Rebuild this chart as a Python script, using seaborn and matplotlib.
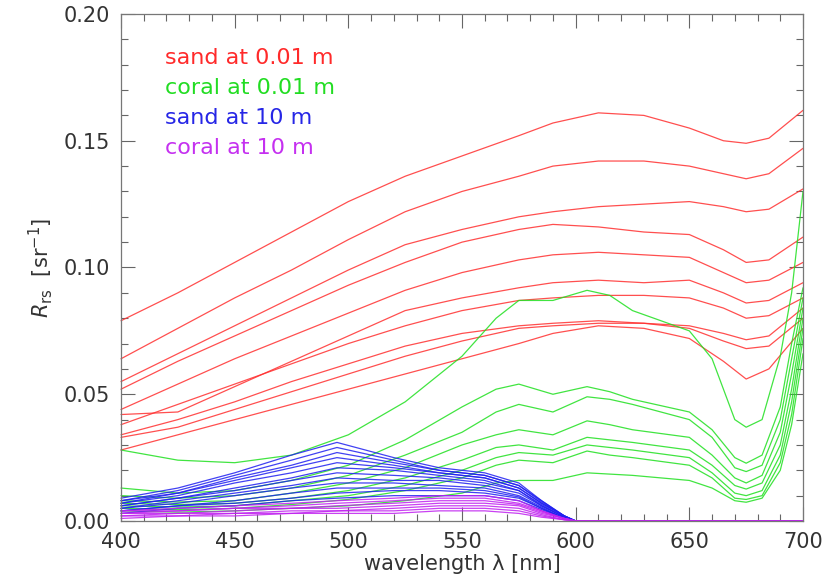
import numpy as np
import pandas as pd
import matplotlib
matplotlib.use("Agg")
import matplotlib.pyplot as plt
import seaborn as sns
from matplotlib.ticker import MultipleLocator

# wavelength grids [nm]
red_wl = [400, 425, 450, 475, 500, 525, 550, 575, 590, 610, 630, 650, 665, 675, 685, 700]
green_wl = [400, 425, 450, 475, 500, 525, 550, 565, 575, 590, 605, 615, 625, 650, 660, 670, 675, 682, 690, 695, 700]
deep_wl = [400, 425, 450, 475, 495, 520, 540, 560, 575, 585, 595, 600, 700]

# sand at 0.01 m
sand_shallow = [
    [0.079, 0.090, 0.102, 0.114, 0.126, 0.136, 0.144, 0.152, 0.157, 0.161, 0.160, 0.155, 0.150, 0.149, 0.151, 0.162],
    [0.064, 0.076, 0.088, 0.099, 0.111, 0.122, 0.130, 0.136, 0.140, 0.142, 0.142, 0.140, 0.137, 0.135, 0.137, 0.147],
    [0.055, 0.066, 0.077, 0.088, 0.099, 0.109, 0.115, 0.120, 0.122, 0.124, 0.125, 0.126, 0.124, 0.122, 0.123, 0.131],
    [0.052, 0.063, 0.073, 0.083, 0.093, 0.102, 0.110, 0.115, 0.117, 0.116, 0.114, 0.113, 0.107, 0.102, 0.103, 0.112],
    [0.044, 0.054, 0.064, 0.073, 0.082, 0.091, 0.098, 0.103, 0.105, 0.106, 0.105, 0.104, 0.098, 0.094, 0.095, 0.102],
    [0.042, 0.043, 0.053, 0.063, 0.073, 0.083, 0.088, 0.092, 0.094, 0.095, 0.094, 0.095, 0.090, 0.086, 0.087, 0.094],
    [0.038, 0.046, 0.054, 0.062, 0.070, 0.077, 0.083, 0.087, 0.088, 0.089, 0.089, 0.088, 0.084, 0.080, 0.081, 0.088],
    [0.034, 0.040, 0.047, 0.055, 0.062, 0.069, 0.074, 0.077, 0.078, 0.079, 0.078, 0.077, 0.074, 0.0715, 0.073, 0.084],
    [0.033, 0.037, 0.044, 0.051, 0.058, 0.065, 0.071, 0.076, 0.077, 0.078, 0.078, 0.076, 0.071, 0.068, 0.069, 0.080],
    [0.028, 0.034, 0.040, 0.046, 0.052, 0.058, 0.064, 0.070, 0.074, 0.077, 0.076, 0.072, 0.063, 0.056, 0.060, 0.076],
]

# coral at 0.01 m
coral_shallow = [
    [0.028, 0.024, 0.023, 0.026, 0.034, 0.047, 0.065, 0.080, 0.087, 0.087, 0.091, 0.089, 0.083, 0.075, 0.064, 0.040, 0.037, 0.040, 0.065, 0.090, 0.130],
    [0.013, 0.011, 0.012, 0.016, 0.022, 0.032, 0.045, 0.052, 0.054, 0.050, 0.053, 0.051, 0.048, 0.043, 0.036, 0.025, 0.0228, 0.026, 0.045, 0.070, 0.092],
    [0.010, 0.009, 0.010, 0.013, 0.018, 0.026, 0.035, 0.043, 0.046, 0.043, 0.049, 0.048, 0.046, 0.040, 0.033, 0.021, 0.0195, 0.022, 0.040, 0.064, 0.088],
    [0.008, 0.0075, 0.008, 0.011, 0.015, 0.021, 0.030, 0.034, 0.036, 0.034, 0.0395, 0.038, 0.036, 0.033, 0.026, 0.017, 0.015, 0.018, 0.035, 0.058, 0.084],
    [0.007, 0.0065, 0.007, 0.009, 0.012, 0.017, 0.024, 0.029, 0.030, 0.028, 0.033, 0.032, 0.031, 0.028, 0.022, 0.014, 0.0126, 0.015, 0.030, 0.052, 0.080],
    [0.006, 0.0055, 0.006, 0.008, 0.010, 0.014, 0.020, 0.025, 0.027, 0.026, 0.030, 0.029, 0.028, 0.025, 0.019, 0.011, 0.010, 0.012, 0.026, 0.047, 0.076],
    [0.005, 0.0045, 0.005, 0.0065, 0.0085, 0.012, 0.017, 0.022, 0.024, 0.023, 0.0276, 0.026, 0.025, 0.022, 0.017, 0.009, 0.0085, 0.010, 0.023, 0.042, 0.072],
    [0.004, 0.0035, 0.004, 0.005, 0.006, 0.008, 0.011, 0.015, 0.016, 0.016, 0.019, 0.0185, 0.018, 0.016, 0.013, 0.008, 0.0074, 0.009, 0.020, 0.038, 0.066],
]

# sand at 10 m
sand_deep = [
    [0.009, 0.013, 0.019, 0.026, 0.031, 0.025, 0.021, 0.019, 0.015, 0.008, 0.002, 0.0, 0.0],
    [0.008, 0.012, 0.018, 0.024, 0.029, 0.024, 0.020, 0.018, 0.014, 0.008, 0.002, 0.0, 0.0],
    [0.008, 0.011, 0.017, 0.022, 0.027, 0.023, 0.020, 0.018, 0.014, 0.0075, 0.002, 0.0, 0.0],
    [0.007, 0.011, 0.016, 0.021, 0.025, 0.022, 0.019, 0.017, 0.013, 0.007, 0.002, 0.0, 0.0],
    [0.007, 0.010, 0.015, 0.019, 0.023, 0.021, 0.019, 0.017, 0.013, 0.007, 0.002, 0.0, 0.0],
    [0.006, 0.009, 0.013, 0.017, 0.021, 0.020, 0.018, 0.016, 0.012, 0.0065, 0.0015, 0.0, 0.0],
    [0.006, 0.009, 0.012, 0.016, 0.019, 0.018, 0.017, 0.015, 0.012, 0.006, 0.0015, 0.0, 0.0],
    [0.005, 0.008, 0.011, 0.014, 0.017, 0.016, 0.016, 0.014, 0.011, 0.006, 0.0015, 0.0, 0.0],
    [0.005, 0.007, 0.010, 0.013, 0.015, 0.015, 0.014, 0.013, 0.010, 0.0055, 0.001, 0.0, 0.0],
    [0.004, 0.006, 0.008, 0.011, 0.013, 0.013, 0.013, 0.012, 0.0095, 0.005, 0.001, 0.0, 0.0],
    [0.004, 0.006, 0.007, 0.009, 0.011, 0.012, 0.012, 0.011, 0.009, 0.005, 0.001, 0.0, 0.0],
    [0.003, 0.005, 0.006, 0.008, 0.009, 0.010, 0.010, 0.010, 0.008, 0.0045, 0.001, 0.0, 0.0],
]

# coral at 10 m
coral_deep = [
    [0.004, 0.005, 0.006, 0.007, 0.008, 0.009, 0.010, 0.010, 0.008, 0.004, 0.001, 0.0, 0.0],
    [0.004, 0.004, 0.005, 0.006, 0.007, 0.008, 0.009, 0.009, 0.007, 0.004, 0.001, 0.0, 0.0],
    [0.003, 0.004, 0.005, 0.005, 0.006, 0.007, 0.008, 0.008, 0.0065, 0.0035, 0.001, 0.0, 0.0],
    [0.003, 0.003, 0.004, 0.005, 0.005, 0.006, 0.007, 0.007, 0.006, 0.003, 0.001, 0.0, 0.0],
    [0.002, 0.003, 0.003, 0.004, 0.004, 0.005, 0.006, 0.006, 0.005, 0.0025, 0.0005, 0.0, 0.0],
    [0.002, 0.002, 0.003, 0.003, 0.004, 0.004, 0.005, 0.005, 0.004, 0.002, 0.0005, 0.0, 0.0],
    [0.001, 0.002, 0.002, 0.003, 0.003, 0.003, 0.004, 0.004, 0.003, 0.0015, 0.0005, 0.0, 0.0],
]

labels = ["sand at 0.01 m", "coral at 0.01 m", "sand at 10 m", "coral at 10 m"]
colors = ["#ff3030", "#20e020", "#2020f0", "#c020f0"]
text_colors = ["#ff2a2a", "#22dd22", "#2626e6", "#c530f0"]

rows = []
for label, wl, curves in zip(labels,
                             [red_wl, green_wl, deep_wl, deep_wl],
                             [sand_shallow, coral_shallow, sand_deep, coral_deep]):
    for i, curve in enumerate(curves):
        for w, v in zip(wl, curve):
            rows.append({"wavelength": w, "Rrs": v, "group": label, "curve": f"{label}_{i}"})
df = pd.DataFrame(rows)

sns.set_style("ticks")
plt.rcParams["font.family"] = ["DejaVu Sans"]

fig = plt.figure(figsize=(8.29, 5.88), dpi=100)
ax = fig.add_axes([121 / 829, 67 / 588, 682 / 829, 507 / 588])

# deep spectra drawn last so they lie on top
for label, c in zip(labels, colors):
    sub = df[df["group"] == label]
    sns.lineplot(data=sub, x="wavelength", y="Rrs", units="curve", estimator=None,
                 color=c, lw=0.9, alpha=0.85, legend=False, ax=ax, clip_on=False)

ax.set_xlim(400, 700)
ax.set_ylim(0, 0.2)
ax.xaxis.set_major_locator(MultipleLocator(50))
ax.xaxis.set_minor_locator(MultipleLocator(10))
ax.yaxis.set_major_locator(MultipleLocator(0.05))
ax.yaxis.set_minor_locator(MultipleLocator(0.01))
ax.yaxis.set_major_formatter(plt.FuncFormatter(lambda v, p: f"{v:.2f}"))

ax.tick_params(which="both", direction="in", top=True, right=True, color="#666666", width=0.8)
ax.tick_params(which="major", length=10, labelsize=15, labelcolor="#333333", pad=8)
ax.tick_params(which="minor", length=5)
for s in ax.spines.values():
    s.set_color("#777777")
    s.set_linewidth(0.9)

ax.set_xlabel("wavelength \u03bb [nm]", fontsize=15, color="#333333", labelpad=1)
ax.set_ylabel(r"$R_{\rm rs}$  [sr$^{-1}$]", fontsize=15, color="#333333", labelpad=6)

ys = [0.913, 0.854, 0.795, 0.736]
for lab, c, y in zip(labels, text_colors, ys):
    ax.text(0.064, y, lab, color=c, fontsize=16, transform=ax.transAxes, va="center", ha="left")

fig.savefig("out.png", dpi=100)
